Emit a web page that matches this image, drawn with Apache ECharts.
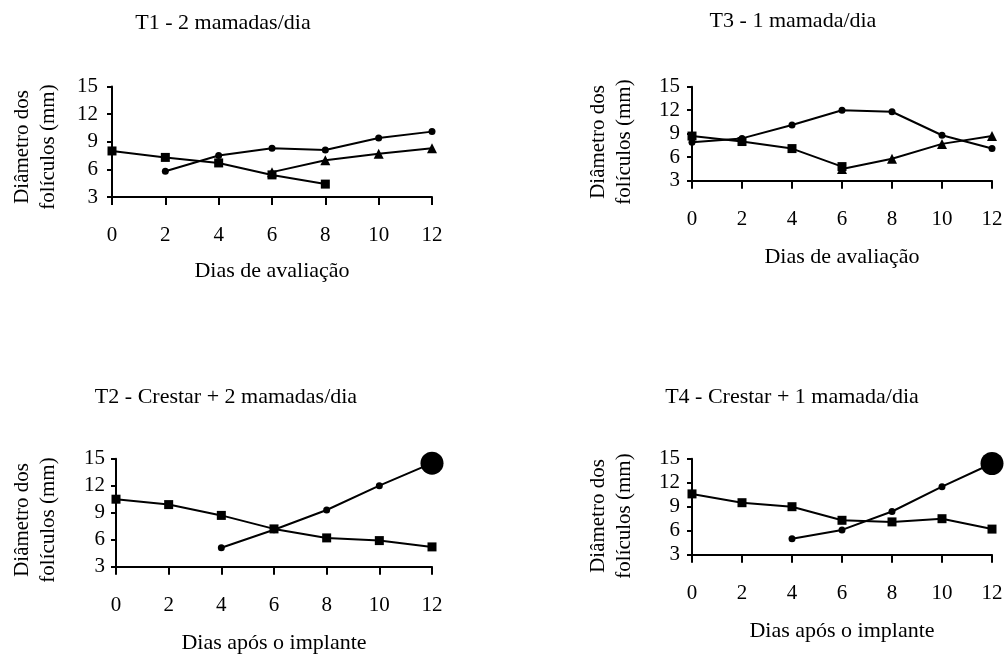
<!DOCTYPE html>
<html>
<head>
<meta charset="utf-8">
<script src="https://cdn.jsdelivr.net/npm/echarts@6/dist/echarts.min.js"></script>
<style>
  html, body { margin: 0; padding: 0; background: #fff; }
  #chart { width: 1005px; height: 656px; }
</style>
</head>
<body>
<div id="chart"></div>
<script>
// Eixos comuns
const dias = [0, 2, 4, 6, 8, 10, 12];
const ticksDiametro = [3, 6, 9, 12, 15];

const titulosPaineis = ['T1 - 2 mamadas/dia', 'T3 - 1 mamada/dia',
                        'T2 - Crestar + 2 mamadas/dia', 'T4 - Crestar + 1 mamada/dia'];
const titulosX = ['Dias de avaliação', 'Dias de avaliação',
                  'Dias após o implante', 'Dias após o implante'];
const tituloY = 'Diâmetro dos\nfolículos (mm)';

// Diâmetro dos folículos (mm) por dia; null = folículo não observado
// T1 - 2 mamadas/dia
const t1Quadrado  = [8.0, 7.3, 6.7, 5.4, 4.4, null, null];
const t1Circulo   = [null, 5.8, 7.5, 8.3, 8.1, 9.4, 10.1];
const t1Triangulo = [null, null, null, 5.7, 7.0, 7.7, 8.3];
// T3 - 1 mamada/dia
const t3Quadrado  = [8.7, 8.0, 7.1, 4.8, null, null, null];
const t3Triangulo = [null, null, null, 4.5, 5.8, 7.7, 8.7];
const t3Circulo   = [7.9, 8.4, 10.1, 12.0, 11.8, 8.8, 7.1];
// T2 - Crestar + 2 mamadas/dia
const t2Quadrado  = [10.5, 9.9, 8.7, 7.2, 6.2, 5.9, 5.2];
const t2Circulo   = [null, null, 5.1, 7.1, 9.3, 12.0, 14.5];
const t2Ovulacao  = [null, null, null, null, null, null, 14.5];
// T4 - Crestar + 1 mamada/dia
const t4Quadrado  = [10.6, 9.5, 9.0, 7.3, 7.1, 7.5, 6.2];
const t4Circulo   = [null, null, 5.0, 6.1, 8.4, 11.5, 14.4];
const t4Ovulacao  = [null, null, null, null, null, null, 14.4];

const FONTE = "'Liberation Serif', 'Times New Roman', serif";

// Posição de cada painel na página
const layout = [
  { left: 112, top: 86.5, width: 320, height: 110.5, titleX: 223, titleY: 12.5, nameGap: 63, yMargin: 14, yName: [35, 147] },
  { left: 692, top: 86.7, width: 300, height: 94,    titleX: 793, titleY: 10.5, nameGap: 66, yMargin: 12, yName: [611, 142] },
  { left: 116, top: 458.7, width: 316, height: 108,  titleX: 226, titleY: 386.5, nameGap: 66, yMargin: 11, yName: [35, 520] },
  { left: 692, top: 458.7, width: 300, height: 96,   titleX: 792, titleY: 386.5, nameGap: 66, yMargin: 12, yName: [611, 516] }
];

const paineisSeries = [
  [{ d: t1Quadrado, s: 'rect' }, { d: t1Circulo, s: 'circle' }, { d: t1Triangulo, s: 'triangle' }],
  [{ d: t3Quadrado, s: 'rect' }, { d: t3Triangulo, s: 'triangle' }, { d: t3Circulo, s: 'circle' }],
  [{ d: t2Quadrado, s: 'rect' }, { d: t2Circulo, s: 'circle' }, { d: t2Ovulacao, s: 'circle', big: true }],
  [{ d: t4Quadrado, s: 'rect' }, { d: t4Circulo, s: 'circle' }, { d: t4Ovulacao, s: 'circle', big: true }]
];

const pares = arr => arr.map((v, i) => [dias[i], v]).filter(p => p[1] !== null);
const tamanho = { rect: 9, circle: 7, triangle: 10 };

const grid = [], xAxis = [], yAxis = [], series = [], title = [], graphic = [];

layout.forEach((L, i) => {
  grid.push({ left: L.left, top: L.top, width: L.width, height: L.height,
              containLabel: false, outerBoundsMode: 'none' });
  title.push({ text: titulosPaineis[i], left: L.titleX, top: L.titleY, textAlign: 'center', padding: 0,
               textStyle: { fontFamily: FONTE, fontSize: 22, fontWeight: 'normal', color: '#000' } });
  xAxis.push({
    type: 'value', gridIndex: i, min: dias[0], max: dias[dias.length - 1], interval: 2,
    axisLine: { show: true, onZero: false, lineStyle: { color: '#000', width: 2 } },
    axisTick: { show: true, inside: false, length: 8, lineStyle: { color: '#000', width: 2 } },
    axisLabel: { margin: 28, color: '#000', fontSize: 21, fontFamily: FONTE },
    splitLine: { show: false },
    name: titulosX[i], nameLocation: 'middle', nameGap: L.nameGap,
    nameTextStyle: { color: '#000', fontSize: 22, fontFamily: FONTE }
  });
  yAxis.push({
    type: 'value', gridIndex: i, min: ticksDiametro[0], max: ticksDiametro[ticksDiametro.length - 1], interval: 3,
    axisLine: { show: true, onZero: false, lineStyle: { color: '#000', width: 2 } },
    axisTick: { show: true, inside: false, length: 5, lineStyle: { color: '#000', width: 2 } },
    axisLabel: { margin: L.yMargin, color: '#000', fontSize: 21, fontFamily: FONTE },
    splitLine: { show: false }
  });
  graphic.push({
    type: 'text', x: L.yName[0], y: L.yName[1], rotation: Math.PI / 2,
    style: { text: tituloY, font: '21px ' + FONTE, fill: '#000',
             textAlign: 'center', textVerticalAlign: 'middle', align: 'center', verticalAlign: 'middle',
             lineHeight: 26 }
  });
  paineisSeries[i].forEach(ps => {
    if (ps.big) {
      // folículo ovulatório
      series.push({ type: 'scatter', xAxisIndex: i, yAxisIndex: i, data: pares(ps.d),
                    symbol: 'circle', symbolSize: 23, itemStyle: { color: '#000', opacity: 1 }, z: 10 });
    } else {
      series.push({ type: 'line', xAxisIndex: i, yAxisIndex: i, data: pares(ps.d),
                    symbol: ps.s, symbolSize: tamanho[ps.s], showSymbol: true, z: 2,
                    lineStyle: { color: '#000', width: 2 }, itemStyle: { color: '#000', opacity: 1 } });
    }
  });
});

const chart = echarts.init(document.getElementById('chart'), null, { renderer: 'canvas' });
chart.setOption({
  backgroundColor: '#fff',
  animation: false,
  title, grid, xAxis, yAxis, series, graphic
});
</script>
</body>
</html>
